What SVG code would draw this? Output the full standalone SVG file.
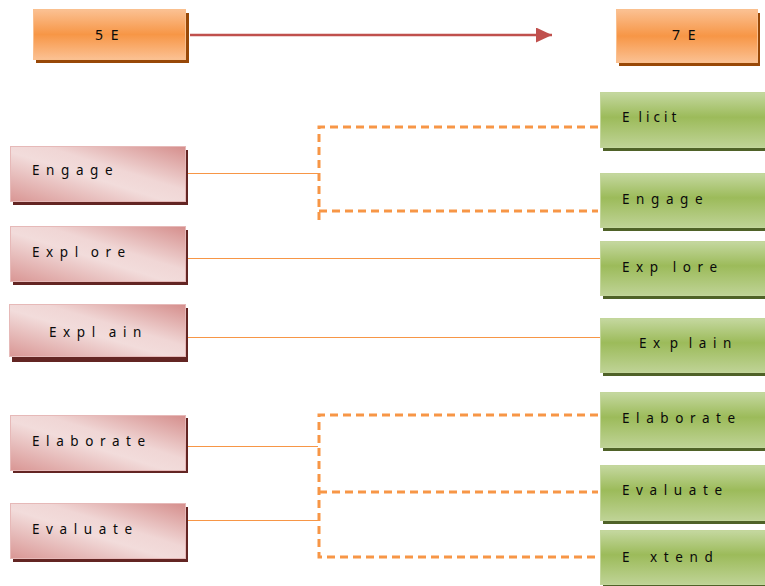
<svg xmlns="http://www.w3.org/2000/svg" width="765" height="586" viewBox="0 0 765 586">
  <defs>
    <linearGradient id="gOrange" x1="0" y1="0" x2="0" y2="1">
      <stop offset="0" stop-color="#fbc193"/>
      <stop offset="0.5" stop-color="#f79646"/>
      <stop offset="1" stop-color="#fbc193"/>
    </linearGradient>
    <linearGradient id="gPink" x1="0" y1="1" x2="1" y2="0">
      <stop offset="0" stop-color="#d99694"/>
      <stop offset="0.45" stop-color="#f2dcdb"/>
      <stop offset="0.6" stop-color="#f0d6d5"/>
      <stop offset="1" stop-color="#d58e8c"/>
    </linearGradient>
    <linearGradient id="gGreen" x1="0" y1="0" x2="0" y2="1">
      <stop offset="0" stop-color="#c5d8a0"/>
      <stop offset="0.45" stop-color="#9cbb5a"/>
      <stop offset="1" stop-color="#bfd396"/>
    </linearGradient>
    <marker id="arrowHead" viewBox="0 0 16 15" refX="16" refY="7.5" markerWidth="16" markerHeight="15" markerUnits="userSpaceOnUse" orient="auto">
      <path d="M0,0 L16,7.5 L0,15 z" fill="#c0504d"/>
    </marker>
  </defs>
  <style>
    text { font-family: "Noto Sans", "Liberation Sans", Arial, sans-serif; font-size: 13.5px; fill: #0a0a0a; }
    .hdr { letter-spacing: 2px; font-size: 14px; }
    .ls { letter-spacing: 6.6px; }
    .shO { fill: #984807; }
    .shP { fill: #632523; }
    .shG { fill: #4f6228; }
    .bxO { fill: url(#gOrange); stroke: #fac08f; stroke-width: 1; }
    .bxP { fill: url(#gPink); stroke: #e6b9b8; stroke-width: 1; }
    .bxG { fill: url(#gGreen); stroke: #c3d69b; stroke-width: 1; }
    .thin { stroke: #f79646; stroke-width: 1; fill: none; }
    .dash { stroke: #f79646; stroke-width: 3; fill: none; stroke-dasharray: 8 5; }
  </style>

  <!-- connectors -->
  <g id="connectors">
    <line x1="190" y1="35" x2="552" y2="35" stroke="#c0504d" stroke-width="2.5" marker-end="url(#arrowHead)"/>
    <!-- Engage -> Elicit / Engage -->
    <line class="thin" x1="186" y1="173.5" x2="318" y2="173.5"/>
    <path class="dash" d="M598,127 H319 V222"/>
    <path class="dash" d="M319,211 H598"/>
    <!-- Explore, Explain -->
    <line class="thin" x1="186" y1="258.5" x2="600" y2="258.5"/>
    <line class="thin" x1="186" y1="337.5" x2="600" y2="337.5"/>
    <!-- Elaborate / Evaluate -> Elaborate / Evaluate / Extend -->
    <line class="thin" x1="186" y1="446.5" x2="318" y2="446.5"/>
    <line class="thin" x1="186" y1="520.5" x2="318" y2="520.5"/>
    <path class="dash" d="M598,415 H319 V557 H598"/>
    <path class="dash" d="M319,492 H598"/>
  </g>

  <!-- headers -->
  <g id="hdr5E">
    <rect class="shO" x="36" y="13" width="153" height="50"/>
    <rect class="bxO" x="33.5" y="9.5" width="152" height="50"/>
    <text class="hdr" x="95" y="40">5 E</text>
  </g>
  <g id="hdr7E">
    <rect class="shO" x="619" y="13" width="141" height="53"/>
    <rect class="bxO" x="616.5" y="9.5" width="141" height="53"/>
    <text class="hdr" x="672" y="40">7 E</text>
  </g>

  <!-- 5E phases -->
  <g id="l-engage">
    <rect class="shP" x="13" y="150" width="175" height="55"/>
    <rect class="bxP" x="10.5" y="146.5" width="175" height="55"/>
    <text class="ls" x="32" y="175">Engage</text>
  </g>
  <g id="l-explore">
    <rect class="shP" x="13" y="230" width="175" height="55"/>
    <rect class="bxP" x="10.5" y="226.5" width="175" height="55"/>
    <text class="ls" x="32" y="257">Expl<tspan dx="6">ore</tspan></text>
  </g>
  <g id="l-explain">
    <rect class="shP" x="12" y="308" width="176" height="54"/>
    <rect class="bxP" x="9.5" y="304.5" width="176" height="52"/>
    <text class="ls" x="49" y="337">Expl<tspan dx="7">ain</tspan></text>
  </g>
  <g id="l-elaborate">
    <rect class="shP" x="13" y="418" width="175" height="55"/>
    <rect class="bxP" x="10.5" y="415.5" width="175" height="55"/>
    <text class="ls" x="32" y="446">Elaborate</text>
  </g>
  <g id="l-evaluate">
    <rect class="shP" x="13" y="507" width="175" height="55"/>
    <rect class="bxP" x="10.5" y="503.5" width="175" height="55"/>
    <text class="ls" x="32" y="534">Evaluate</text>
  </g>

  <!-- 7E phases -->
  <g id="r-elicit">
    <rect class="shG" x="603" y="96" width="165" height="55"/>
    <rect class="bxG" x="600.5" y="92.5" width="168" height="55"/>
    <text class="ls" x="622" y="122" style="letter-spacing:4px">E<tspan dx="5">licit</tspan></text>
  </g>
  <g id="r-engage">
    <rect class="shG" x="603" y="177" width="165" height="54"/>
    <rect class="bxG" x="600.5" y="173.5" width="168" height="54"/>
    <text class="ls" x="622" y="204">Engage</text>
  </g>
  <g id="r-explore">
    <rect class="shG" x="603" y="245" width="165" height="54"/>
    <rect class="bxG" x="600.5" y="241.5" width="168" height="54"/>
    <text class="ls" x="622" y="272">Exp<tspan dx="8">lore</tspan></text>
  </g>
  <g id="r-explain">
    <rect class="shG" x="603" y="322" width="165" height="54"/>
    <rect class="bxG" x="600.5" y="318.5" width="168" height="54"/>
    <text class="ls" x="639" y="348">Ex<tspan dx="3">p</tspan><tspan dx="4">lain</tspan></text>
  </g>
  <g id="r-elaborate">
    <rect class="shG" x="603" y="396" width="165" height="55"/>
    <rect class="bxG" x="600.5" y="392.5" width="168" height="55"/>
    <text class="ls" x="622" y="423">Elaborate</text>
  </g>
  <g id="r-evaluate">
    <rect class="shG" x="603" y="469" width="165" height="55"/>
    <rect class="bxG" x="600.5" y="465.5" width="168" height="55"/>
    <text class="ls" x="622" y="495">Evaluate</text>
  </g>
  <g id="r-extend">
    <rect class="shG" x="603" y="534" width="165" height="54"/>
    <rect class="bxG" x="600.5" y="530.5" width="168" height="54"/>
    <text class="ls" x="622" y="562">E<tspan dx="14">xtend</tspan></text>
  </g>
</svg>
